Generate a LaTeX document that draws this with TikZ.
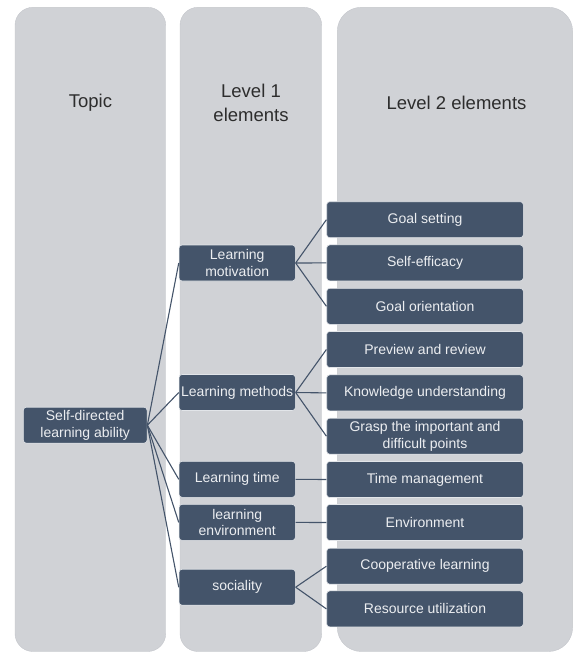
\documentclass[tikz,border=0pt]{standalone}
\usepackage{fontspec}
\setmainfont{Liberation Sans}
\definecolor{colgray}{RGB}{208,210,214}
\definecolor{coledge}{RGB}{196,198,203}
\definecolor{boxblue}{RGB}{68,84,106}
\definecolor{boxedge}{RGB}{226,229,233}
\definecolor{boxtext}{RGB}{236,238,241}
\definecolor{hdrgray}{RGB}{45,45,45}
\begin{document}
\begin{tikzpicture}[x=1pt,y=-1pt,
  colbox/.style={fill=colgray, draw=coledge, line width=0.4pt},
  box/.style={fill=boxblue, draw=boxedge, line width=0.6pt, rounded corners=3pt,
    text=boxtext, font=\fontsize{14}{16.7}\selectfont, align=center,
    inner sep=1pt, minimum height=36pt},
  topbox/.style={box, minimum width=123.7pt},
  lone/.style={box, minimum width=116.3pt},
  ltwo/.style={box, minimum width=196.6pt},
  hdr/.style={text=hdrgray, font=\fontsize{18.5}{24}\selectfont, align=center},
  conn/.style={draw=boxblue, line width=1.1pt}]
\useasboundingbox (0,0) rectangle (573,653);
% columns
\path[colbox, rounded corners=18pt] (15,7.3) rectangle (165.7,651.5);
\path[colbox, rounded corners=18pt] (180,7.3) rectangle (321.7,651.5);
\path[colbox, rounded corners=24pt] (337.3,7.3) rectangle (572.6,651.5);
% headers
\node[hdr] (h1) at (90.4,103) {Topic};
\node[hdr] (h2) at (251,103) {Level 1\\elements};
\node[hdr] (h3) at (456.5,103) {Level 2 elements};
% topic
\node[topbox] (topic) at (85.2,425.2) {Self-directed\\learning ability};
% level 1
\node[lone] (motiv) at (237.2,263) {Learning\\motivation};
\node[lone] (meth) at (237.2,392.5) {Learning methods};
\node[lone] (time) at (237.2,479.3) {Learning time};
\node[lone] (env) at (237.2,522.4) {learning\\environment};
\node[lone] (soc) at (237.2,587.2) {sociality};
% level 2
\node[ltwo] (gs) at (425,219.7) {Goal setting};
\node[ltwo] (se) at (425,262.9) {Self-efficacy};
\node[ltwo] (go) at (425,306.3) {Goal orientation};
\node[ltwo] (pr) at (425,349.5) {Preview and review};
\node[ltwo] (ku) at (425,392.9) {Knowledge understanding};
\node[ltwo] (gr) at (425,436.2) {Grasp the important and\\difficult points};
\node[ltwo] (tm) at (425,479.5) {Time management};
\node[ltwo] (en) at (425,522.5) {Environment};
\node[ltwo] (co) at (425,566.2) {Cooperative learning};
\node[ltwo] (ru) at (425,608.9) {Resource utilization};
% connectors
\foreach \t in {motiv,meth,time,env,soc} \draw[conn] (topic.east) -- (\t.west);
\foreach \t in {gs,se,go} \draw[conn] (motiv.east) -- (\t.west);
\foreach \t in {pr,ku,gr} \draw[conn] (meth.east) -- (\t.west);
\draw[conn] (time.east) -- (tm.west);
\draw[conn] (env.east) -- (en.west);
\foreach \t in {co,ru} \draw[conn] (soc.east) -- (\t.west);
\end{tikzpicture}
\end{document}
